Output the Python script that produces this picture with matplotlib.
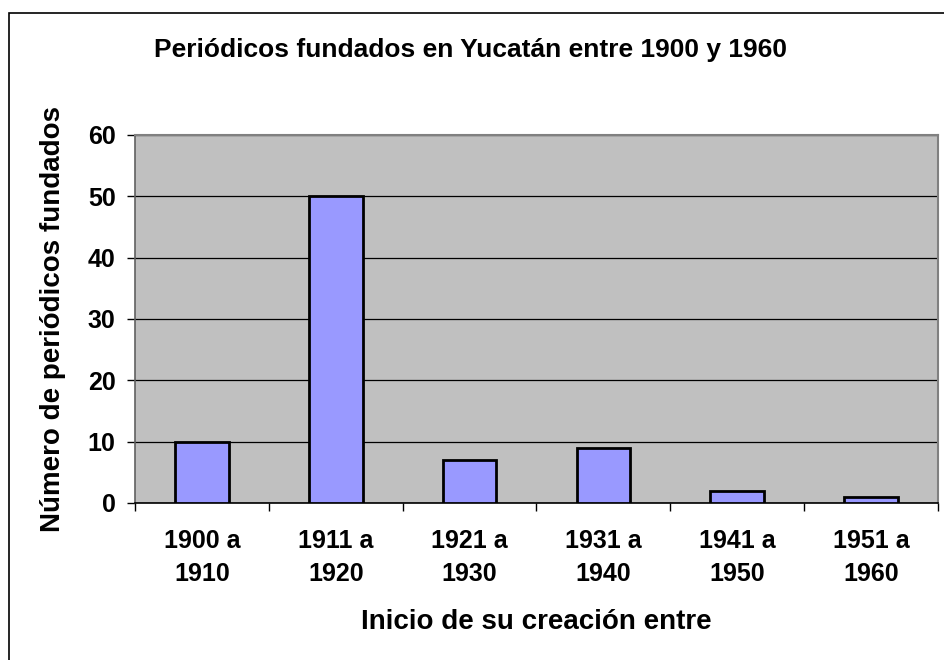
import numpy as np
import matplotlib.pyplot as plt
from matplotlib.patches import Rectangle

# datos
periodos = ['1900 a\n1910', '1911 a\n1920', '1921 a\n1930',
            '1931 a\n1940', '1941 a\n1950', '1951 a\n1960']
periodicos = [10, 50, 7, 9, 2, 1]
yticks = [0, 10, 20, 30, 40, 50, 60]

plt.rcParams['font.family'] = ['Liberation Sans', 'DejaVu Sans']
plt.rcParams['font.weight'] = 'bold'

W, H = 945, 660
fig = plt.figure(figsize=(W/100, H/100), dpi=100)
ax = fig.add_axes([135/W, 1-503/H, (938-135)/W, (503-135)/H])
ax.set_facecolor('#C0C0C0')

x = np.arange(len(periodos))
ax.bar(x, periodicos, width=0.4, color='#9999FF', edgecolor='black',
       linewidth=2, zorder=3)

ax.set_xlim(-0.5, len(periodos) - 0.5)
ax.set_ylim(0, 60)
ax.set_yticks(yticks)
ax.yaxis.grid(True, color='black', linewidth=0.9, zorder=1)
ax.set_axisbelow(True)

ax.set_xticks(x)
ax.set_xticklabels(periodos, fontsize=18, fontweight='bold', linespacing=1.45)
ax.set_xticks(np.arange(-0.5, len(periodos)), minor=True)
ax.tick_params(axis='x', which='major', length=0, pad=19)
ax.tick_params(axis='x', which='minor', length=6, width=1, direction='out')
ax.tick_params(axis='y', length=6, width=1, pad=8, labelsize=18)
for t in ax.get_yticklabels():
    t.set_fontweight('bold')

for s in ['top', 'right']:
    ax.spines[s].set_color('#808080')
    ax.spines[s].set_linewidth(1.5)
ax.spines['left'].set_color('#606060')
ax.spines['left'].set_linewidth(1.2)
ax.spines['bottom'].set_color('black')
ax.spines['bottom'].set_linewidth(1.2)

fig.text(536/W, 1-622/H, 'Inicio de su creación entre', ha='center',
         va='center', fontsize=20, fontweight='bold')
fig.text(53/W, 1-319/H, 'Número de periódicos fundados', ha='center',
         va='center', rotation=90, fontsize=20, fontweight='bold')
fig.text(471/W, 1-50/H, 'Periódicos fundados en Yucatán entre 1900 y 1960',
         ha='center', va='center', fontsize=19, fontweight='bold')

# marco exterior
fig.patches.append(Rectangle((9/W, -0.1), 1.2, 1-13/H+0.1,
                             transform=fig.transFigure, fill=False,
                             edgecolor='black', linewidth=1.2))

fig.savefig('out.png', dpi=100)
